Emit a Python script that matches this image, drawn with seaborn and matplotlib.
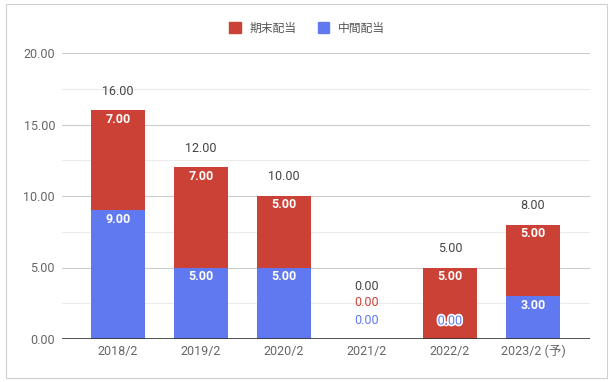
import matplotlib
matplotlib.use("Agg")
import matplotlib.pyplot as plt
import matplotlib.patheffects as pe
from matplotlib.patches import Rectangle
import seaborn as sns
import pandas as pd

categories = ["2018/2", "2019/2", "2020/2", "2021/2", "2022/2", "2023/2 (予)"]
interim = [9.0, 5.0, 5.0, 0.0, 0.0, 3.0]     # 中間配当
year_end = [7.0, 7.0, 5.0, 0.0, 5.0, 5.0]    # 期末配当
yticks = [0, 5, 10, 15, 20]

totals = [a + b for a, b in zip(interim, year_end)]
df = pd.DataFrame({"cat": categories, "interim": interim, "year_end": year_end, "total": totals})

RED = "#CC4136"
BLUE = "#6079F0"
GRAY = "#444444"
TICK = "#666666"
FS = 9

sns.set_theme(style="white")
plt.rcParams["font.family"] = ["Roboto", "Noto Sans CJK JP", "DejaVu Sans"]

fig = plt.figure(figsize=(6.13, 3.82), dpi=100)
ax = fig.add_axes([62/613, 43/382, 528/613, 286/382])

sns.barplot(data=df, x="cat", y="total", color=RED, width=0.66, saturation=1, ax=ax,
            zorder=3, linewidth=0, edgecolor="none")
sns.barplot(data=df, x="cat", y="interim", color=BLUE, width=0.66, saturation=1, ax=ax,
            zorder=4, linewidth=0, edgecolor="none")

ax.set_ylim(0, 20)
ax.set_xlim(-0.675, 5.687)
ax.set_yticks(yticks)
ax.set_yticklabels([f"{v:.2f}" for v in yticks], color=TICK, fontsize=FS)
ax.set_xticks(range(len(categories)))
ax.set_xticklabels(categories, color=TICK, fontsize=FS)
ax.tick_params(axis="x", length=0, pad=4)
ax.tick_params(axis="y", length=0, pad=5)
ax.set_xlabel("")
ax.set_ylabel("")

for y in [2.5, 7.5, 12.5, 17.5]:
    ax.axhline(y, color="#ebebeb", lw=0.8, zorder=1)
for y in [5, 10, 15, 20]:
    ax.axhline(y, color="#cccccc", lw=0.8, zorder=1)
ax.axhline(0, color="#333333", lw=1.2, zorder=6)
for s in ax.spines.values():
    s.set_visible(False)

halo = [pe.withStroke(linewidth=2.5, foreground="white")]
for i, (a, b, t) in enumerate(zip(interim, year_end, totals)):
    if t == 0:
        ax.annotate(f"{t:.2f}", (i, 0), xytext=(0, 53), textcoords="offset pixels",
                    ha="center", va="center", fontsize=FS, color=GRAY, zorder=7)
        ax.annotate(f"{b:.2f}", (i, 0), xytext=(0, 36), textcoords="offset pixels",
                    ha="center", va="center", fontsize=FS, color=RED, zorder=7)
        ax.annotate(f"{a:.2f}", (i, 0), xytext=(0, 18), textcoords="offset pixels",
                    ha="center", va="center", fontsize=FS, color=BLUE, zorder=7)
        continue
    ax.annotate(f"{t:.2f}", (i, t), xytext=(0, 19), textcoords="offset pixels",
                ha="center", va="center", fontsize=FS, color=GRAY, zorder=7)
    ax.annotate(f"{b:.2f}", (i, t), xytext=(0, -9), textcoords="offset pixels",
                ha="center", va="center", fontsize=FS, color="white", fontweight="bold", zorder=7)
    if a > 0:
        ax.annotate(f"{a:.2f}", (i, a), xytext=(0, -9), textcoords="offset pixels",
                    ha="center", va="center", fontsize=FS, color="white", fontweight="bold", zorder=7)
    else:
        ax.annotate(f"{a:.2f}", (i, 0), xytext=(0, 18), textcoords="offset pixels",
                    ha="center", va="center", fontsize=FS, color=BLUE,
                    path_effects=halo, zorder=7)

# legend
handles = [Rectangle((0, 0), 1, 1, color=RED), Rectangle((0, 0), 1, 1, color=BLUE)]
fig.legend(handles, ["期末配当", "中間配当"], loc="center", bbox_to_anchor=(307/613, 1 - 28/382),
           ncol=2, frameon=False, handlelength=1.0, handleheight=1.0,
           handletextpad=0.7, columnspacing=1.8, labelcolor="#555555",
           prop={"family": ["Noto Sans CJK JP"], "size": 8.5})

fig.patches.append(Rectangle((6/613, 4/382), 601/613, 374/382, transform=fig.transFigure,
                             fill=False, edgecolor="#d0d0d0", lw=0.8))

fig.savefig("out.png", dpi=100)
